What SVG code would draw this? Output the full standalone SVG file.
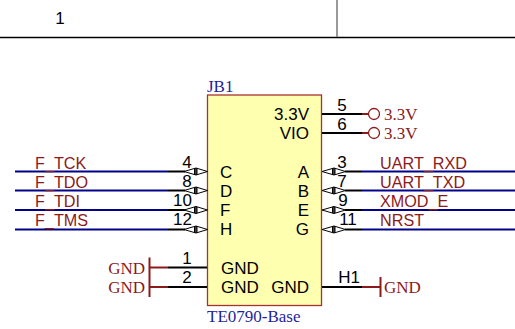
<svg xmlns="http://www.w3.org/2000/svg" width="515" height="329" viewBox="0 0 515 329">
<defs>
<g id="io"><path d="M0 0L12 -3.500V3.500ZM23.500 0L12 -3.500V3.500Z" fill="#fff" stroke="#000" stroke-width="1"/><path d="M10.500 -3V3M13 -3V3" stroke="#000" stroke-width="1"/></g>
</defs>
<style>
.s{font-family:"Liberation Sans",Arial,sans-serif;font-size:17px;fill:#000}
.n{font-family:"Liberation Sans",Arial,sans-serif;font-size:16.200px;fill:#8b1a1a}
.r{font-family:"Liberation Serif","Times New Roman",serif;font-size:17px;fill:#8b1a1a}
.b{font-family:"Liberation Serif","Times New Roman",serif;font-size:17px;fill:#1f1f9c}
.k{stroke:#000;stroke-width:2;fill:none}
.w{stroke:#00008b;stroke-width:2;fill:none}
.d{stroke:#8b1a1a;stroke-width:2;fill:none}
.e{text-anchor:end}
.m{text-anchor:middle}
</style>
<g id="frame">
<path d="M0 37.500H515" stroke="#000" stroke-width="1.300"/>
<path d="M337 0V37" stroke="#777" stroke-width="1.500"/>
<text x="60" y="24" class="s m">1</text>
</g>
<g id="JB1">
<rect x="207.500" y="95" width="114" height="210.500" fill="#ffffb0" stroke="#a83232" stroke-width="1.300"/>
<text x="207" y="92" class="b">JB1</text>
<text x="207" y="322" class="b">TE0790-Base</text>
<text x="309" y="120" class="s e">3.3V</text>
<text x="309" y="139" class="s e">VIO</text>
<text x="220" y="178" class="s">C</text>
<text x="220" y="197" class="s">D</text>
<text x="220" y="216" class="s">F</text>
<text x="220" y="235" class="s">H</text>
<text x="309" y="178" class="s e">A</text>
<text x="309" y="197" class="s e">B</text>
<text x="309" y="216" class="s e">E</text>
<text x="309" y="235" class="s e">G</text>
<text x="221" y="274" class="s">GND</text>
<text x="221" y="293" class="s">GND</text>
<text x="309" y="293" class="s e">GND</text>
</g>
<g id="connectors">
<path class="w" d="M15 171.500H168M15 190.500H168M15 210H168M15 229.500H168M362 171.500H515M362 190.500H515M362 210H515M362 229.500H515"/>
<path class="k" d="M168 171.500H185M168 190.500H185M168 210H185M168 229.500H185M345 171.500H362M345 190.500H362M345 210H362M345 229.500H362"/>
<path class="k" d="M322 114H362M322 133H362M168 267.500H207M168 287H207M322 287H362"/>
<path class="d" d="M362 114H369M362 133H369M150 267.500H168M150 287H168M362 287H380"/>
<path d="M149.500 257.500V277M149.500 277V297M380.500 277V297" stroke="#8b1a1a" stroke-width="2" fill="none"/>
<use href="#io" x="184" y="171.500"/><use href="#io" x="184" y="190.500"/><use href="#io" x="184" y="210"/><use href="#io" x="184" y="229.500"/>
<use href="#io" x="322" y="171.500"/><use href="#io" x="322" y="190.500"/><use href="#io" x="322" y="210"/><use href="#io" x="322" y="229.500"/>
<circle cx="374" cy="114" r="5.500" fill="none" stroke="#8b1a1a" stroke-width="1.300"/>
<circle cx="374" cy="133" r="5.500" fill="none" stroke="#8b1a1a" stroke-width="1.300"/>
</g>
<g id="pins">
<text x="187" y="167.500" class="s m">4</text>
<text x="187" y="186.500" class="s m">8</text>
<text x="182.500" y="205.500" class="s m">10</text>
<text x="182.500" y="224.500" class="s m">12</text>
<text x="342" y="167.500" class="s m">3</text>
<text x="342" y="186.500" class="s m">7</text>
<text x="343" y="205.500" class="s m">9</text>
<text x="348" y="224.500" class="s m">11</text>
<text x="342" y="111" class="s m">5</text>
<text x="342" y="130" class="s m">6</text>
<text x="187" y="263.500" class="s m">1</text>
<text x="187" y="282.500" class="s m">2</text>
<text x="349" y="282.500" class="s m">H1</text>
</g>
<g id="labels">
<text x="35" y="168.600" class="n">F_TCK</text>
<text x="35" y="187.600" class="n">F_TDO</text>
<text x="35" y="206.600" class="n">F_TDI</text>
<text x="35" y="225.600" class="n">F_TMS</text>
<text x="380" y="168.600" class="n">UART_RXD</text>
<text x="380" y="187.600" class="n">UART_TXD</text>
<text x="380" y="206.600" class="n">XMOD_E</text>
<text x="380" y="225.600" class="n">NRST</text>
<text x="384" y="120" class="r">3.3V</text>
<text x="384" y="139" class="r">3.3V</text>
<text x="145" y="274" class="r e">GND</text>
<text x="145" y="293" class="r e">GND</text>
<text x="384" y="293" class="r">GND</text>
</g>
</svg>
